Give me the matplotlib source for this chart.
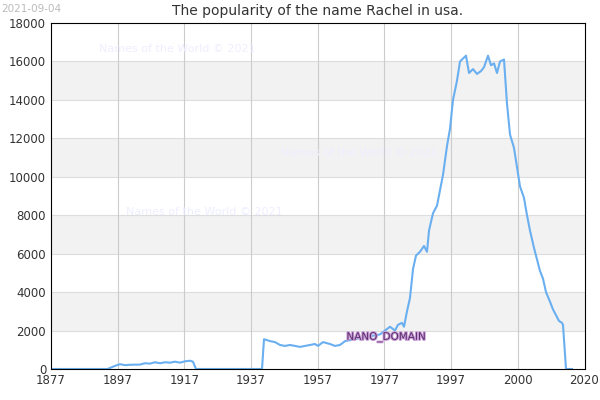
import matplotlib
matplotlib.use("Agg")
import matplotlib.pyplot as plt
import matplotlib.patheffects as pe

years = [1877, 1894, 1895.3, 1896.8, 1897.7, 1899.2, 1900.7, 1903.7, 1905.2, 1906.7, 1908.2, 1909.7,
         1911.2, 1912.7, 1914.2, 1915.7, 1917.2, 1918.7, 1919.6, 1920.5, 1940.3, 1940.9, 1942.7,
         1944.2, 1945.7, 1947.2, 1948.7, 1950.2, 1951.7, 1953.2, 1954.7, 1956.2, 1957.1, 1958.6,
         1960.7, 1962.2, 1963.7, 1965.2, 1966.7, 1969.7, 1972.7, 1975.7, 1977.2, 1978.7, 1980.2,
         1981.1, 1982.3, 1982.9, 1983.8, 1984.7, 1985.6, 1986.5, 1987.7, 1988.9, 1989.8, 1990.4,
         1991.6, 1992.8, 1993.7, 1994.6, 1995.8, 1996.7, 1997.6, 1998.8, 1999.7, 2001.5, 2002.4,
         2003.6, 2004.8, 2006, 2006.9, 2008.1, 2009, 2009.9, 2010.8, 2011.7, 2012.9, 2013.8,
         2014.7, 2015.9, 2016.8, 2017.7, 2018.9, 2019.8, 2020.7, 2021.9, 2022.8, 2023.7, 2024.6,
         2025.5, 2026.7, 2027.6, 2028.5, 2029.4, 2030.3, 2030.6, 2031.5, 2033.3]
values = [0, 0, 100, 200, 250, 200, 220, 230, 300, 280, 350, 300,
          350, 330, 380, 330, 400, 430, 380, 0, 0, 1550, 1450,
          1400, 1250, 1200, 1250, 1200, 1150, 1200, 1250, 1300, 1200, 1400,
          1300, 1200, 1250, 1450, 1500, 1600, 1700, 1800, 2000, 2200, 2000,
          2300, 2400, 2200, 3000, 3700, 5200, 5900, 6100, 6400, 6100, 7200,
          8100, 8500, 9300, 10100, 11600, 12500, 14000, 15000, 16000, 16300, 15400,
          15600, 15350, 15500, 15700, 16300, 15800, 15900, 15400, 16000, 16100, 13800,
          12200, 11500, 10500, 9500, 8900, 8000, 7200, 6300, 5700, 5100, 4700,
          4000, 3500, 3100, 2800, 2500, 2400, 2300, 0, 0]
tick_pos = [1877, 1897, 1917, 1937, 1957, 1977, 1997, 2017, 2037]
tick_labels = ["1877", "1897", "1917", "1937", "1957", "1977", "1997", "2000", "2020"]

fig = plt.figure(figsize=(6, 4), dpi=100)
ax = fig.add_axes([0.085, 0.0775, 0.89, 0.865])
for lo in [2000, 6000, 10000, 14000]:
    ax.axhspan(lo, lo + 2000, color="#f2f2f2", zorder=0, lw=0)
for y in range(2000, 18000, 2000):
    ax.axhline(y, color="#dddddd", lw=0.8, zorder=0.5)
for x in tick_pos[1:-1]:
    ax.axvline(x, color="#cccccc", lw=0.8, zorder=0.5)
ax.plot(years, values, color="#6aaff0", lw=1.5, zorder=2)
ax.set_xlim(1877, 2037.2)
ax.set_ylim(0, 18000)
ax.set_xticks(tick_pos)
ax.set_xticklabels(tick_labels)
ax.set_yticks(range(0, 18001, 2000))
ax.tick_params(labelsize=8.5, colors="#333333", length=0)
for s in ax.spines.values():
    s.set_color("black")
ax.set_title("The popularity of the name Rachel in usa.", fontsize=10, color="#333333", pad=6)
fig.text(0.002, 0.99, "2021-09-04", fontsize=7.5, color="#bbbbbb", va="top")
wm = dict(fontsize=8, color="#eeeeff", zorder=1, transform=ax.transAxes)
ax.text(0.09, 0.915, "Names of the World © 2021", **wm)
ax.text(0.43, 0.615, "Names of the World © 2021", **wm)
ax.text(0.14, 0.445, "Names of the World © 2021", **wm)
ax.text(1977.5, 1650, "NANO_DOMAIN", fontsize=7.5, color="#5a2a6a", ha="center", va="center", zorder=3,
        path_effects=[pe.withStroke(linewidth=1.5, foreground="#c9a0d8")])
fig.savefig("out.png")
